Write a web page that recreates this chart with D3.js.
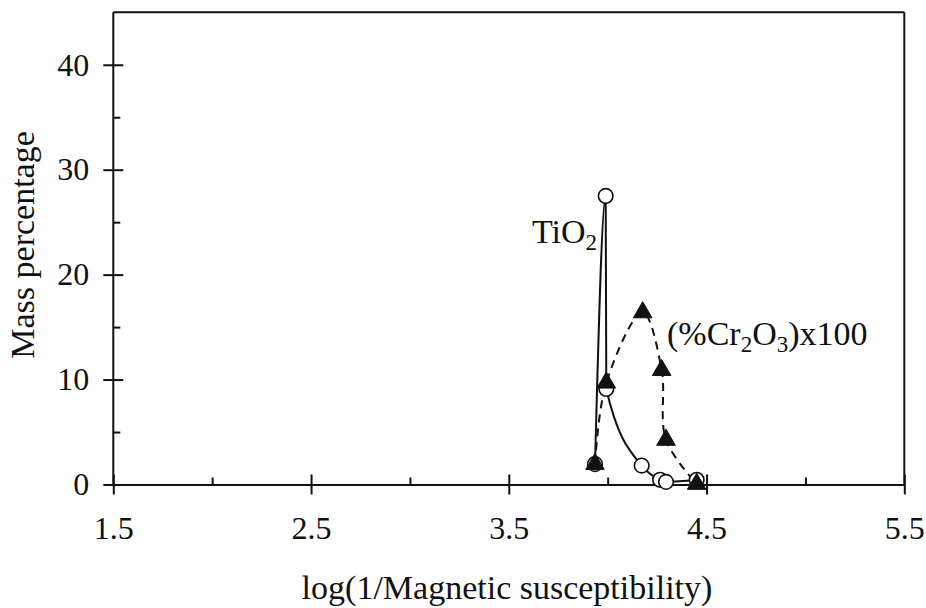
<!DOCTYPE html>
<html>
<head>
<meta charset="utf-8">
<script src="https://cdn.jsdelivr.net/npm/d3@7"></script>
<style>
    body { margin: 0; background: #fff; }
    text { font-family: "Liberation Serif", "Times New Roman", serif; fill: #111; }
</style>
</head>
<body>
<svg id="chart" width="926" height="608"></svg>
<script>
// data
let xTicks = [1.5, 2.5, 3.5, 4.5, 5.5];
let xMinorTicks = [2.0, 3.0, 4.0, 5.0];
let yTicks = [0, 10, 20, 30, 40];
let yMinorTicks = [5, 15, 25, 35];

let tioX = [3.936, 3.99, 3.993, 4.172, 4.265, 4.295, 4.45];
let tioY = [1.95, 27.5, 9.1, 1.8, 0.45, 0.25, 0.45];

let crX = [3.936, 3.993, 4.177, 4.273, 4.295, 4.45];
let crY = [1.95, 9.7, 16.4, 10.9, 4.25, 0.05];

let svg = d3.select("#chart");

let margin = {top: 12.3, right: 21.7, bottom: 123.5, left: 113.3};
let width = 926 - margin.left - margin.right;
let height = 608 - margin.top - margin.bottom;

let g = svg.append("g")
    .attr("transform", "translate(" + margin.left + "," + margin.top + ")");

let xScale = d3.scaleLinear().domain([1.5, 5.5]).range([0, width]);
let yScale = d3.scaleLinear().domain([0, 45]).range([height, 0]);

// frame: top and right
g.append("line")
    .attr("x1", 0).attr("x2", width).attr("y1", 0).attr("y2", 0)
    .attr("stroke", "#111").attr("stroke-width", 2);
g.append("line")
    .attr("x1", width).attr("x2", width).attr("y1", 0).attr("y2", height)
    .attr("stroke", "#111").attr("stroke-width", 2);

// x axis, major ticks cross the axis line
let xAxis = d3.axisBottom(xScale)
    .tickValues(xTicks)
    .tickSize(10)
    .tickSizeOuter(0)
    .tickPadding(22)
    .tickFormat(d3.format(".1f"));

let xg = g.append("g")
    .attr("transform", "translate(0," + height + ")")
    .call(xAxis);
xg.selectAll(".tick line").attr("y1", -10);

let xMinor = g.append("g")
    .attr("transform", "translate(0," + height + ")")
    .call(d3.axisBottom(xScale).tickValues(xMinorTicks).tickSize(-7).tickSizeOuter(0).tickFormat(""));
xMinor.select(".domain").remove();

// y axis
let yAxis = d3.axisLeft(yScale)
    .tickValues(yTicks)
    .tickSize(10)
    .tickSizeOuter(0)
    .tickPadding(14);

let yg = g.append("g").call(yAxis);
yg.selectAll(".tick line").attr("x1", 10);
yg.select(".domain").attr("d", "M0," + height + "V0");

let yMinor = g.append("g")
    .call(d3.axisLeft(yScale).tickValues(yMinorTicks).tickSize(-7).tickSizeOuter(0).tickFormat(""));
yMinor.select(".domain").remove();

svg.selectAll(".domain, .tick line")
    .attr("stroke", "#111")
    .attr("stroke-width", 2);

svg.selectAll(".tick text")
    .style("font-family", "'Liberation Serif', serif")
    .style("font-size", "32px")
    .attr("fill", "#111");

// axis titles
svg.append("text")
    .attr("x", 507)
    .attr("y", 599)
    .attr("text-anchor", "middle")
    .style("font-size", "34px")
    .text("log(1/Magnetic susceptibility)");

svg.append("text")
    .attr("transform", "translate(34,245) rotate(-90)")
    .attr("text-anchor", "middle")
    .style("font-size", "34px")
    .text("Mass percentage");

// lines
let tioData = tioX.map((x, i) => [x, tioY[i]]);
let crData = crX.map((x, i) => [x, crY[i]]);

let tioLine = d3.line()
    .x(d => xScale(d[0]))
    .y(d => yScale(d[1]))
    .curve(d3.curveMonotoneX);

let crLine = d3.line()
    .x(d => xScale(d[0]))
    .y(d => yScale(d[1]))
    .curve(d3.curveCatmullRom.alpha(0.5));

g.append("path")
    .datum(tioData)
    .attr("d", tioLine)
    .attr("fill", "none")
    .attr("stroke", "#111")
    .attr("stroke-width", 2);

g.append("path")
    .datum(crData)
    .attr("d", crLine)
    .attr("fill", "none")
    .attr("stroke", "#111")
    .attr("stroke-width", 2)
    .attr("stroke-dasharray", "8,6");

// markers
g.selectAll(".tio")
    .data(tioData)
    .enter().append("circle")
    .attr("class", "tio")
    .attr("cx", d => xScale(d[0]))
    .attr("cy", d => yScale(d[1]))
    .attr("r", 7.3)
    .attr("fill", "#fff")
    .attr("stroke", "#111")
    .attr("stroke-width", 1.6);

let tri = d3.symbol().type(d3.symbolTriangle).size(150);

g.selectAll(".cr")
    .data(crData)
    .enter().append("path")
    .attr("class", "cr")
    .attr("d", tri)
    .attr("transform", d => "translate(" + xScale(d[0]) + "," + yScale(d[1]) + ")")
    .attr("fill", "#111")
    .attr("stroke", "#111")
    .attr("stroke-width", 1);

// series labels
let tioLabel = svg.append("text")
    .attr("x", 532)
    .attr("y", 243)
    .style("font-size", "34px");
tioLabel.append("tspan").text("TiO");
tioLabel.append("tspan").attr("dy", 7).style("font-size", "23px").text("2");

let crLabel = svg.append("text")
    .attr("x", 667)
    .attr("y", 345)
    .style("font-size", "34px");
crLabel.append("tspan").text("(%Cr");
crLabel.append("tspan").attr("dy", 7).style("font-size", "23px").text("2");
crLabel.append("tspan").attr("dy", -7).text("O");
crLabel.append("tspan").attr("dy", 7).style("font-size", "23px").text("3");
crLabel.append("tspan").attr("dy", -7).text(")x100");
</script>
</body>
</html>
